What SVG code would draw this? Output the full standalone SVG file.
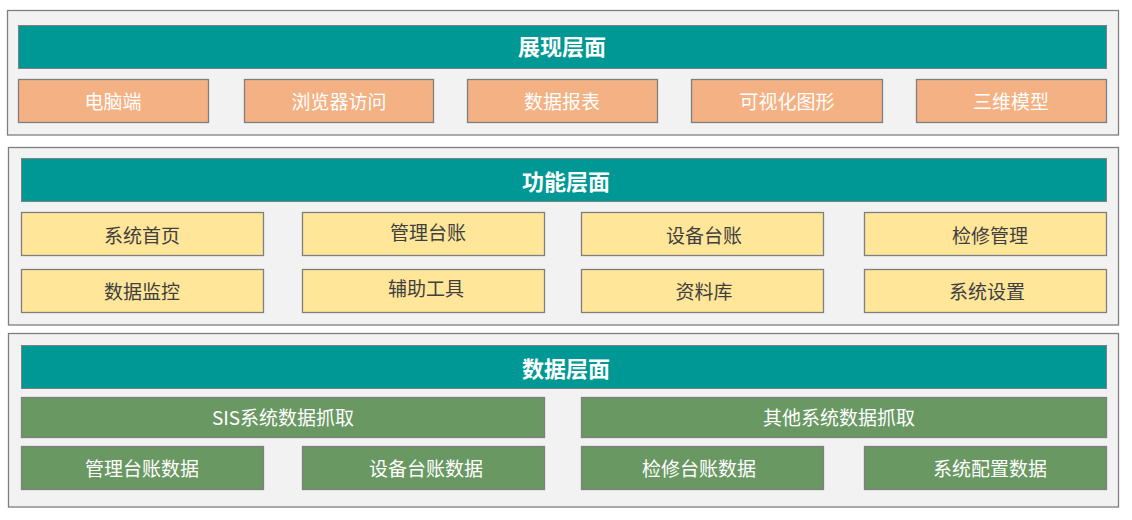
<svg xmlns="http://www.w3.org/2000/svg" width="1132" height="520" viewBox="0 0 1132 520">
<style>
.layer{fill:#F2F2F2;stroke:#7F7F7F;stroke-width:1.3}
.hdr{fill:#009894;stroke:#7F7F7F;stroke-width:1}
.org{fill:#F4B183;stroke:#7F7F7F;stroke-width:1.3}
.yel{fill:#FFE699;stroke:#7F7F7F;stroke-width:1.3}
.grn{fill:#699863;stroke:#7F7F7F;stroke-width:1.3}
text{font-family:"Noto Sans CJK SC","Noto Sans",sans-serif;text-anchor:middle;dominant-baseline:central}
.ht{font-size:22px;font-weight:bold;fill:#FFFFFF}
.wt{font-size:19px;fill:#FFFFFF}
.dt{font-size:19px;fill:#404040}
</style>
<g id="layer-presentation">
<rect class="layer" x="7.5" y="10.5" width="1111" height="124.5"/>
<g id="hdr-presentation"><rect class="hdr" x="18.5" y="25.5" width="1088" height="43"/><text class="ht" x="562" y="45">展现层面</text></g>
<g id="p1"><rect class="org" x="18.5" y="79.5" width="190" height="43"/><text class="wt" x="113" y="100">电脑端</text></g>
<g id="p2"><rect class="org" x="244.5" y="79.5" width="189" height="43"/><text class="wt" x="339" y="100">浏览器访问</text></g>
<g id="p3"><rect class="org" x="467.5" y="79.5" width="190" height="43"/><text class="wt" x="562" y="100">数据报表</text></g>
<g id="p4"><rect class="org" x="691.5" y="79.5" width="191" height="43"/><text class="wt" x="787" y="100">可视化图形</text></g>
<g id="p5"><rect class="org" x="916.5" y="79.5" width="190" height="43"/><text class="wt" x="1011" y="100">三维模型</text></g>
</g>
<g id="layer-function">
<rect class="layer" x="8.5" y="147.5" width="1110" height="177.5"/>
<g id="hdr-function"><rect class="hdr" x="21.5" y="158.5" width="1085" height="43"/><text class="ht" x="566" y="180">功能层面</text></g>
<g id="f1"><rect class="yel" x="21.5" y="212.5" width="242" height="43"/><text class="dt" x="142" y="234">系统首页</text></g>
<g id="f2"><rect class="yel" x="302.5" y="212.5" width="242" height="43"/><text class="dt" x="428" y="231">管理台账</text></g>
<g id="f3"><rect class="yel" x="581.5" y="212.5" width="242" height="43"/><text class="dt" x="704" y="234">设备台账</text></g>
<g id="f4"><rect class="yel" x="864.5" y="212.5" width="242" height="43"/><text class="dt" x="990" y="234">检修管理</text></g>
<g id="f5"><rect class="yel" x="21.5" y="269.5" width="242" height="43"/><text class="dt" x="142" y="290">数据监控</text></g>
<g id="f6"><rect class="yel" x="302.5" y="269.5" width="242" height="43"/><text class="dt" x="426" y="287">辅助工具</text></g>
<g id="f7"><rect class="yel" x="581.5" y="269.5" width="242" height="43"/><text class="dt" x="704" y="290">资料库</text></g>
<g id="f8"><rect class="yel" x="864.5" y="269.5" width="242" height="43"/><text class="dt" x="987" y="290">系统设置</text></g>
</g>
<g id="layer-data">
<rect class="layer" x="8.5" y="333.5" width="1110" height="173.5"/>
<g id="hdr-data"><rect class="hdr" x="21.5" y="345.5" width="1085" height="43"/><text class="ht" x="566" y="367">数据层面</text></g>
<g id="d1"><rect class="grn" x="21.5" y="397.5" width="523" height="40"/><text class="wt" x="283" y="416">SIS系统数据抓取</text></g>
<g id="d2"><rect class="grn" x="581.5" y="397.5" width="525" height="40"/><text class="wt" x="839" y="416">其他系统数据抓取</text></g>
<g id="d3"><rect class="grn" x="21.5" y="446.5" width="242" height="43"/><text class="wt" x="142" y="467">管理台账数据</text></g>
<g id="d4"><rect class="grn" x="302.5" y="446.5" width="242" height="43"/><text class="wt" x="426" y="467">设备台账数据</text></g>
<g id="d5"><rect class="grn" x="581.5" y="446.5" width="242" height="43"/><text class="wt" x="699" y="467">检修台账数据</text></g>
<g id="d6"><rect class="grn" x="864.5" y="446.5" width="242" height="43"/><text class="wt" x="990" y="467">系统配置数据</text></g>
</g>
<g id="connectors"/>
</svg>
